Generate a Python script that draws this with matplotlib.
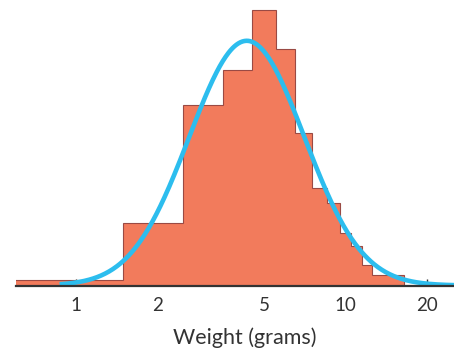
import numpy as np
import matplotlib
matplotlib.use("Agg")
import matplotlib.pyplot as plt

# Histogram: integer-gram bins (edges at n-0.5) and their heights (counts)
bin_edges = [0.5, 1.5, 2.5, 3.5, 4.5, 5.5, 6.5, 7.5, 8.5, 9.5, 10.5, 11.5, 12.5,
             13.5, 14.5, 15.5, 16.5]
counts = [1.0, 12.2, 35.5, 42.2, 54.0, 46.3, 30.0, 19.2, 16.1, 10.2, 7.8, 4.0,
          2.0, 2.0, 2.0, 2.0]

# Fitted log-normal curve (on log10 weight): peak location, spread, peak height
fit_peak_weight = 4.30
fit_sigma_log10 = 0.2135
fit_peak_height = 48.0
curve_range = (0.87, 25.2)

tick_values = [1, 2, 5, 10, 20]
tick_labels = ["1", "2", "5", "10", "20"]
x_label = "Weight (grams)"

plt.rcParams['font.family'] = ['Lato', 'DejaVu Sans']

fig = plt.figure(figsize=(4.54, 3.49), dpi=100)
ax = fig.add_axes([16/454, 63.5/349, 438/454, 285.5/349])

ax.stairs(counts, bin_edges, fill=True, facecolor="#F27B5C",
          edgecolor="#9A4A44", linewidth=0.8, zorder=2)

xs = np.logspace(np.log10(curve_range[0]), np.log10(curve_range[1]), 400)
ys = fit_peak_height * np.exp(-(np.log10(xs) - np.log10(fit_peak_weight))**2
                              / (2 * fit_sigma_log10**2))
ax.plot(xs, ys, color="#2CBDEE", linewidth=3.3, solid_capstyle="butt", zorder=3)

ax.set_xscale("log")
ax.set_xlim(0.6, 25.2)
ax.set_ylim(0, 56)
ax.set_xticks(tick_values)
ax.set_xticklabels(tick_labels)
ax.xaxis.set_minor_locator(matplotlib.ticker.NullLocator())
ax.tick_params(axis="x", direction="in", length=5, width=1, colors="#333333",
               labelsize=13.5, pad=8)
ax.set_yticks([])
for s in ["top", "right", "left"]:
    ax.spines[s].set_visible(False)
ax.spines["bottom"].set_color("#333333")
ax.spines["bottom"].set_linewidth(1.6)
ax.spines["bottom"].set_zorder(4)

ax.set_xlabel(x_label, fontsize=15.5, color="#333333")
ax.xaxis.set_label_coords((244.5 - 16) / 438, -62 / 285.5)
ax.xaxis.label.set_verticalalignment("bottom")

fig.savefig("out.png", dpi=100)
